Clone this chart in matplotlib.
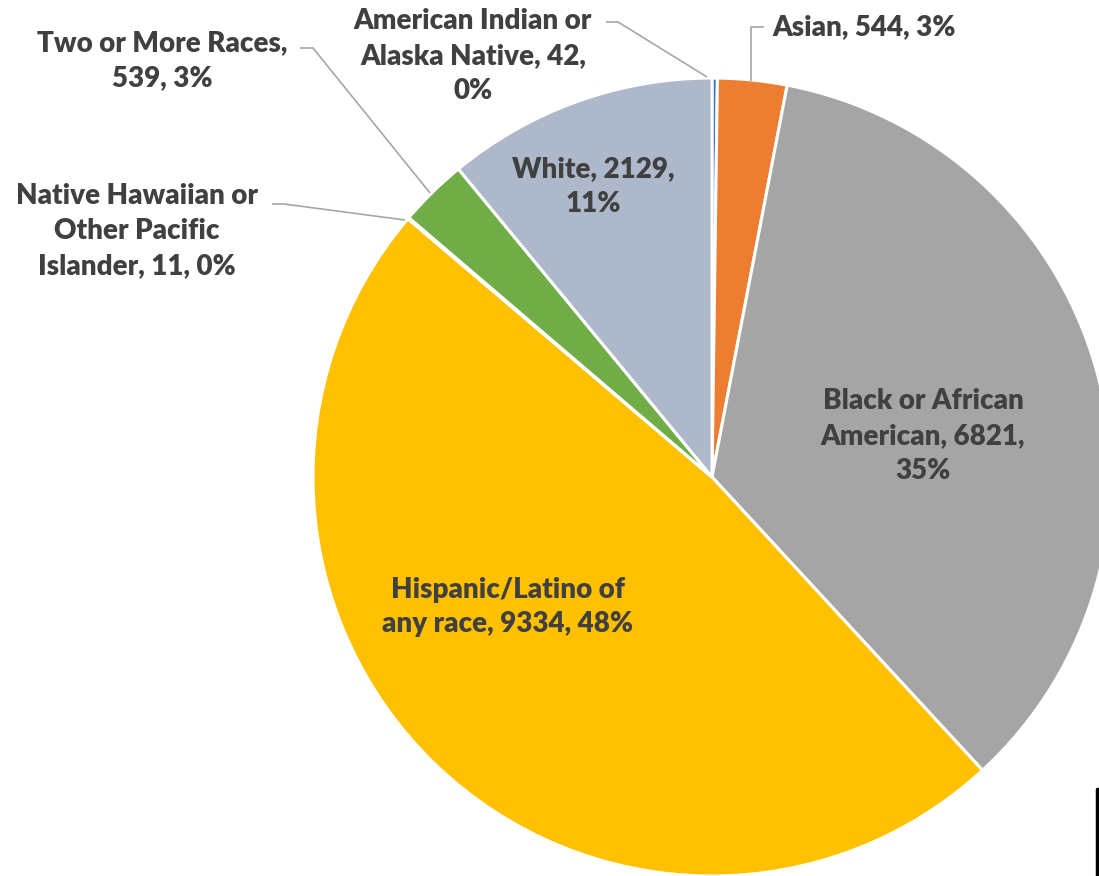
import matplotlib
matplotlib.use("Agg")
import matplotlib.pyplot as plt

# data, in the order Excel draws the slices (clockwise from 12 o'clock)
categories = ["American Indian or Alaska Native", "Asian", "Black or African American",
              "Hispanic/Latino of any race", "Native Hawaiian or Other Pacific Islander",
              "Two or More Races", "White"]
counts = [42, 544, 6821, 9334, 11, 539, 2129]
colors = ["#4472C4", "#ED7D31", "#A5A5A5", "#FFC000", "#5B9BD5", "#70AD47", "#ADB9CA"]

# label text broken the way the chart shows it
label_lines = [
    ["American Indian or", "Alaska Native, {v},", "{p}%"],
    ["Asian, {v}, {p}%"],
    ["Black or African", "American, {v},", "{p}%"],
    ["Hispanic/Latino of", "any race, {v}, {p}%"],
    ["Native Hawaiian or", "Other Pacific", "Islander, {v}, {p}%"],
    ["Two or More Races,", "{v}, {p}%"],
    ["White, {v},", "{p}%"],
]

W, H = 1099, 876
fig = plt.figure(figsize=(W / 100, H / 100), dpi=100)
ax = fig.add_axes([0, 0, 1, 1])

cx, cy, r = 712, H - 477, 399
ax.pie(counts, colors=colors, startangle=90, counterclock=False,
       center=(cx, cy), radius=r, frame=True,
       wedgeprops=dict(edgecolor="white", linewidth=2.2))
ax.set_xlim(0, W)
ax.set_ylim(0, H)
ax.set_aspect("equal")
ax.axis("off")

total = sum(counts)
# label centres in pixels (from top)
label_pos = [(473, 56), (864, 27), (923, 436), (508, 607), (137, 231), (162, 61), (593, 187)]

txt = dict(fontsize=20, fontweight="heavy", color="#404040", ha="center", va="center",
           family=["Lato", "DejaVu Sans"], linespacing=1.42)
for lines, v, (x, y) in zip(label_lines, counts, label_pos):
    p = round(100 * v / total)
    s = "\n".join(l.format(v=v, p=p) for l in lines)
    ax.text(x, H - y, s, **txt)

# leader lines for the thin slices
leaders = [
    [(606, 22), (618, 22), (707, 77)],
    [(764, 27), (751, 27), (751, 81)],
    [(272, 204), (284, 204), (405, 220)],
    [(300, 48), (313, 48), (430, 193)],
]
for pts in leaders:
    xs = [p[0] for p in pts]
    ys = [H - p[1] for p in pts]
    ax.plot(xs, ys, color="#A6A6A6", linewidth=1.2, solid_capstyle="butt")

# edge of a box cut off at the bottom right
ax.plot([1096.5, 1096.5, 1100], [0, H - 789, H - 789], color="black", linewidth=2.5)

fig.savefig("out.png", dpi=100)
